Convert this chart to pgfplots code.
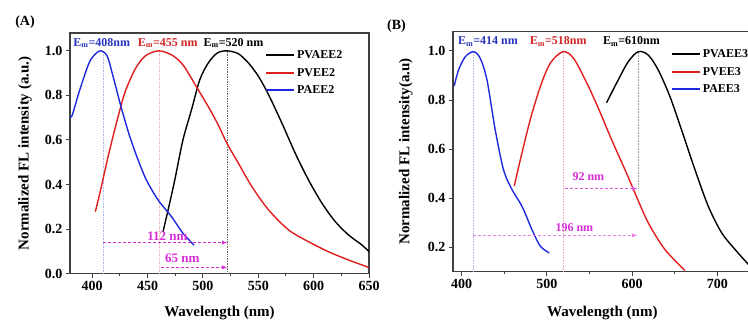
\documentclass[border=0pt]{standalone}
\usepackage{fontspec}
\setmainfont{Liberation Serif}
\usepackage{pgfplots}
\pgfplotsset{compat=1.18}
\definecolor{cblue}{RGB}{30,40,220}
\definecolor{cred}{RGB}{225,30,30}
\definecolor{cmag}{RGB}{215,45,215}
\definecolor{lblue}{RGB}{40,50,190}
\definecolor{lred}{RGB}{210,35,35}
\pgfplotsset{
  common/.style={
    scale only axis,
    axis line style={line width=1.1pt, black!75},
    tick align=outside, tick pos=left,
    minor x tick num=1,
    major tick length=4pt, minor tick length=2.5pt,
    tick style={line width=0.9pt, black!75},
    /pgf/number format/assume math mode=true,
    tick label style={font=\fontsize{14}{14}\selectfont\bfseries},
    label style={font=\fontsize{15}{15}\selectfont\bfseries},
    yticklabel style={/pgf/number format/.cd, fixed, fixed zerofill, precision=1},
    legend style={draw=none, fill=none, font=\fontsize{12}{12}\selectfont\bfseries, anchor=north west, row sep=4pt, inner sep=0pt},
    legend cell align=left,
    legend image code/.code={\draw[#1, line width=2pt] (0pt,0.3pt) -- (28pt,0.3pt);},
  }
}
\begin{document}
\begin{tikzpicture}
\begin{axis}[common,
  at={(70pt,46.4pt)}, anchor=south west,
  width=299pt, height=240.6pt,
  xmin=380, xmax=650, ymin=0, ymax=1.08,
  xtick={400,450,500,550,600,650},
  ytick={0,0.2,0.4,0.6,0.8,1.0},
  xlabel={Wavelength (nm)}, ylabel={Normalized FL intensity (a.u.)},
  xlabel style={at={(axis description cs:0.5,-0.164)}, anchor=center},
  ylabel style={at={(axis description cs:-0.1505,0.5)}, anchor=center},
  legend style={at={(axis description cs:0.652,0.935)}},
]
\addplot[forget plot, lblue!35, densely dotted, line width=0.6pt] coordinates {(410,0) (410,1)};
\addplot[forget plot, lred!35, densely dotted, line width=0.6pt] coordinates {(461,0) (461,1)};
\addplot[forget plot, black!60, densely dotted, line width=0.7pt] coordinates {(522,0) (522,1)};
\addplot[black, line width=1.4pt, smooth] coordinates {
(464,0.188) (468.6,0.286) (474.6,0.42) (482,0.60) (489.7,0.735) (497.2,0.87) (504.8,0.945) (513,0.99) (521.6,1.0) (532,0.987) (541.2,0.945) (550.2,0.885) (559.3,0.803) (571.4,0.675) (583.4,0.54) (595.4,0.42) (607.5,0.316) (619.6,0.233) (631.6,0.173) (643.7,0.128) (650,0.098)};
\addlegendentry{PVAEE2}
\addplot[cred, line width=1.4pt, smooth] coordinates {
(402.9,0.278) (408.3,0.39) (414.4,0.525) (421.9,0.675) (429.4,0.81) (438.5,0.915) (447.5,0.975) (459.6,1.0) (471.6,0.982) (482,0.937) (494,0.84) (504.8,0.75) (513.8,0.668) (521.6,0.586) (532,0.496) (544.3,0.39) (559.3,0.286) (577.4,0.196) (595.4,0.143) (613.5,0.098) (631.6,0.061) (649.7,0.028)};
\addlegendentry{PVEE2}
\addplot[cblue, line width=1.4pt, smooth] coordinates {
(380,0.705) (381.8,0.708) (387,0.795) (391.8,0.87) (397.8,0.952) (403.8,0.99) (408.3,1.0) (413.7,0.975) (418.9,0.885) (426.4,0.743) (434,0.615) (441.5,0.51) (449,0.42) (459.6,0.33) (471.6,0.256) (482,0.181) (492,0.128)};
\addlegendentry{PAEE2}
\addplot[forget plot, cmag, densely dashed, line width=0.8pt, -latex] coordinates {(410,0.139) (522,0.139)};
\addplot[forget plot, cmag, densely dashed, line width=0.8pt, -latex] coordinates {(462.6,0.028) (522,0.028)};
\node[text=cmag, font=\fontsize{13}{13}\selectfont\bfseries] at (axis cs:467.9,0.169) {112 nm};
\node[text=cmag, font=\fontsize{13}{13}\selectfont\bfseries] at (axis cs:481.3,0.067) {65 nm};
\node[text=lblue, font=\fontsize{12}{12}\selectfont\bfseries] at (axis cs:408.7,1.035) {E\textsubscript{m}=408nm};
\node[text=lred, font=\fontsize{12}{12}\selectfont\bfseries] at (axis cs:468.3,1.035) {E\textsubscript{m}=455 nm};
\node[text=black, font=\fontsize{12}{12}\selectfont\bfseries] at (axis cs:527.6,1.035) {E\textsubscript{m}=520 nm};
\end{axis}
\begin{axis}[common,
  at={(453pt,48.3pt)}, anchor=south west,
  width=298.6pt, height=240.4pt,
  xmin=390, xmax=740, ymin=0.1, ymax=1.08,
  xtick={400,500,600,700},
  ytick={0.2,0.4,0.6,0.8,1.0},
  xlabel={Wavelength (nm)}, ylabel={Normalized FL intensity(a.u)},
  xlabel style={at={(axis description cs:0.5,-0.172)}, anchor=center},
  ylabel style={at={(axis description cs:-0.158,0.5)}, anchor=center},
  legend style={at={(axis description cs:0.729,0.932)}},
]
\addplot[forget plot, lblue!35, densely dotted, line width=0.6pt] coordinates {(414,0.1) (414,1)};
\addplot[forget plot, lred!35, densely dotted, line width=0.6pt] coordinates {(519,0.1) (519,1)};
\addplot[forget plot, black!40, densely dotted, line width=0.6pt] coordinates {(607,0.44) (607,1)};
\addplot[black, line width=1.4pt, smooth] coordinates {
(570,0.789) (583.7,0.882) (595.4,0.956) (607.2,0.997) (618.9,0.983) (630.6,0.922) (644.3,0.814) (657.9,0.678) (673.6,0.516) (689.2,0.367) (704.8,0.259) (720.5,0.191) (736.1,0.13)};
\addlegendentry{PVAEE3}
\addplot[cred, line width=1.4pt, smooth] coordinates {
(461.8,0.45) (470.8,0.584) (480.5,0.719) (492.3,0.854) (504,0.95) (518.9,0.997) (531.3,0.97) (547,0.868) (560.3,0.767) (575.9,0.638) (591.6,0.516) (603.3,0.421) (618.9,0.299) (638.5,0.19) (661.9,0.105)};
\addlegendentry{PVEE3}
\addplot[cblue, line width=1.4pt, smooth] coordinates {
(391.4,0.857) (396.5,0.922) (404.3,0.976) (414.1,0.997) (421.9,0.97) (429.8,0.882) (439.5,0.678) (449.2,0.516) (459.1,0.435) (470.8,0.367) (482.5,0.272) (492.3,0.204) (502.8,0.177)};
\addlegendentry{PAEE3}
\addplot[forget plot, cmag!80, densely dashed, line width=0.8pt, -latex] coordinates {(521.6,0.439) (606,0.439)};
\addplot[forget plot, cmag!60, densely dashed, line width=0.8pt, -latex] coordinates {(414,0.248) (606,0.248)};
\node[text=cmag, font=\fontsize{12}{12}\selectfont\bfseries] at (axis cs:548.7,0.486) {92 nm};
\node[text=cmag, font=\fontsize{12}{12}\selectfont\bfseries] at (axis cs:532.3,0.279) {196 nm};
\node[text=lblue, font=\fontsize{12}{12}\selectfont\bfseries] at (axis cs:431,1.037) {E\textsubscript{m}=414 nm};
\node[text=lred, font=\fontsize{12}{12}\selectfont\bfseries] at (axis cs:513.4,1.037) {E\textsubscript{m}=518nm};
\node[text=black, font=\fontsize{12}{12}\selectfont\bfseries] at (axis cs:599.3,1.037) {E\textsubscript{m}=610nm};
\end{axis}
\node[font=\fontsize{14}{14}\selectfont\bfseries] at (25pt,297.5pt) {(A)};
\node[font=\fontsize{14}{14}\selectfont\bfseries] at (396.5pt,293.5pt) {(B)};
\pgfresetboundingbox
\useasboundingbox (0pt,0pt) rectangle (748pt,320pt);
\end{tikzpicture}
\end{document}
